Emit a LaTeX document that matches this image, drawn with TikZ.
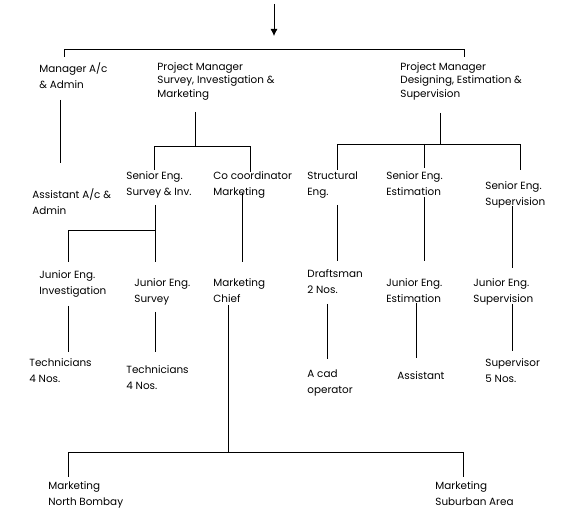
\documentclass[tikz,border=0pt]{standalone}
\usepackage{fontspec}
\setmainfont{Poppins}
\usetikzlibrary{arrows.meta}
\begin{document}
\begin{tikzpicture}[x=1pt,y=-1pt,line width=0.8pt]
\tikzstyle{every node}+=[inner sep=0pt,anchor=north west,align=left,font=\fontsize{10.4}{16}\selectfont]
\tikzstyle{tight}=[font=\fontsize{10.4}{13.5}\selectfont]
\useasboundingbox (0,0) rectangle (568,526);
\node (mgr) at (39,62) {Manager A/c\\\& Admin};
\node [tight] (pms) at (157,62) {Project Manager\\Survey, Investigation \&\\Marketing};
\node [tight] (pmd) at (400,62) {Project Manager\\Designing, Estimation \&\\Supervision};
\node (asst) at (32,188) {Assistant A/c \&\\Admin};
\node (ses) at (126,171) {Senior Eng.\\Survey \& Inv.};
\node (coord) at (213,171) {Co coordinator\\Marketing};
\node (struct) at (307,171) {Structural\\Eng.};
\node (see) at (386,171) {Senior Eng.\\Estimation};
\node (sesup) at (485,181) {Senior Eng.\\Supervision};
\node (jei) at (39,270) {Junior Eng.\\Investigation};
\node (jes) at (134,278) {Junior Eng.\\Survey};
\node (mch) at (213,278) {Marketing\\Chief};
\node (dra) at (307,269) {Draftsman\\2 Nos.};
\node (jee) at (386,278) {Junior Eng.\\Estimation};
\node (jesup) at (473,278) {Junior Eng.\\Supervision};
\node (tec1) at (29,358) {Technicians\\4 Nos.};
\node (tec2) at (126,365) {Technicians\\4 Nos.};
\node (cad) at (307,369) {A cad\\operator};
\node (ass) at (397,371) {Assistant};
\node (sup) at (485,358) {Supervisor\\5 Nos.};
\node (mnb) at (48,481) {Marketing\\North Bombay};
\node (msub) at (435,481) {Marketing\\Suburban Area};
\coordinate (in) at (274,4);
\coordinate (top) at (274,36);
\coordinate (topL) at (64,49.5);
\coordinate (topR) at (464,49.5);
\coordinate (pmsB) at (195,112);
\coordinate (pmsJ) at (195,146);
\coordinate (pmdB) at (440,113);
\coordinate (pmdJ) at (440,144);
\coordinate (sesB) at (155,205);
\coordinate (sesJ) at (155,230);
\coordinate (mchB) at (228,305);
\coordinate (mchJ) at (228,452);
\draw [-{Latex[length=7pt,width=7pt]}] (in) -- (top);
\draw (64,57) -- (topL) -- (topR) -- (464,57);
\draw (60,100) -- (60,163);
\draw (pmsB) -- (pmsJ);
\draw (154,170) -- (154,146) -- (250,146) -- (250,172);
\draw (pmdB) -- (pmdJ);
\draw (337,170) -- (337,144) -- (520,144) -- (520,170);
\draw (424,144) -- (424,168);
\draw (sesB) -- (155,262);
\draw (68,262) -- (68,230) -- (sesJ);
\draw (242,193) -- (242,262);
\draw (337,205) -- (337,261);
\draw (424,197) -- (424,261);
\draw (512,206) -- (512,268);
\draw (68,306) -- (68,352);
\draw (155,312) -- (155,352);
\draw (mchB) -- (mchJ);
\draw (68,477) -- (68,452) -- (463,452) -- (463,477);
\draw (327,304) -- (327,359);
\draw (416,303) -- (416,358);
\draw (512,304) -- (512,351);
\end{tikzpicture}
\end{document}
